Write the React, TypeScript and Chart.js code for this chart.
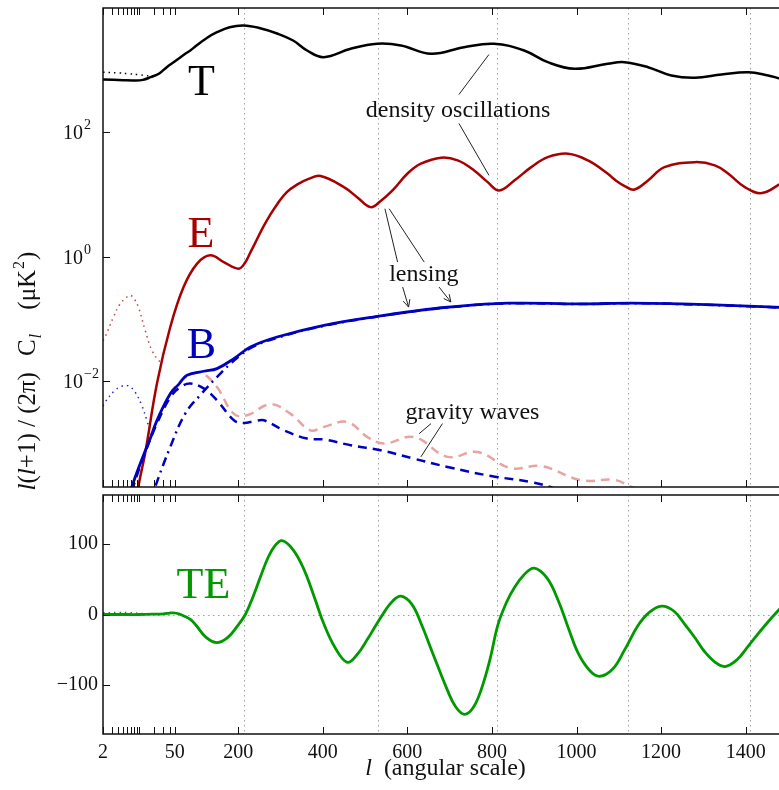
import React, { useEffect, useRef } from 'react';
import { Chart, LinearScale, registerables } from 'chart.js';

Chart.register(...registerables);

// ---------------- data (multipole l, D_l in uK^2) ----------------
const ttL = [2, 5, 8, 12, 17, 25, 35, 50, 75, 87, 100, 126, 150, 180, 213, 250, 292, 330, 363, 402, 466, 529, 585, 656, 734, 805, 876, 932, 995, 1074, 1113, 1169, 1224, 1280, 1343, 1406, 1453, 1483, 1500];
const ttV = [710, 690, 684, 700, 773, 887, 1119, 1380, 1838, 2075, 2445, 3300, 4083, 4920, 5236, 4780, 3893, 3000, 2075, 1622, 2213, 2663, 2500, 1838, 2345, 2663, 2075, 1346, 1054, 1270, 1346, 1119, 824, 757, 855, 931, 824, 729, 700];

const ttLowL = [2, 4, 6.2, 10, 13.3, 18, 22];
const ttLowV = [931, 905, 877, 845, 824, 805, 840];

const eeL = [8, 9.8, 13.3, 22.6, 41, 71, 103, 134, 166, 201, 217, 229, 241, 260, 276.5, 292, 314.5, 340, 366.6, 395, 450, 482, 513, 537, 565, 600, 632, 680, 719, 758, 790, 817, 853, 893, 932, 980, 1027, 1074, 1090, 1115, 1137, 1169, 1208, 1280, 1327, 1359, 1398, 1438, 1483, 1500];
const eeV = [5e-5, 2.0e-4, 7.0e-4, 9.3e-3, 0.0745, 0.327, 0.778, 1.057, 0.824, 0.645, 0.817, 1.18, 1.71, 3.09, 4.82, 6.97, 10.9, 14.6, 17.9, 19.9, 13.2, 9.04, 6.3, 7.9, 11.7, 21.7, 31.4, 39.3, 35.5, 24.5, 15.9, 11.7, 16.9, 27.7, 40, 45.5, 35.5, 21.7, 17.5, 13.6, 12.1, 16.9, 27.7, 33.3, 29.5, 21.7, 13.2, 10.6, 15.0, 17];

const eeLowL = [2, 2.2, 3.2, 4.2, 5.4, 6.7, 8, 9.8, 13.3, 18, 26.2, 29];
const eeLowV = [0.045, 0.0515, 0.108, 0.17, 0.213, 0.241, 0.215, 0.156, 0.066, 0.0315, 0.0204, 0.022];

const bbL = [6, 7.3, 12.7, 16.7, 22.6, 41, 60, 79, 118.5, 150, 190, 229, 292, 403, 537, 600, 695, 837, 1011, 1130, 1248, 1406, 1500];
const bbV = [1e-4, 2e-4, 6.9e-4, 1.2e-3, 2.36e-3, 6.3e-3, 9.0e-3, 0.0125, 0.0145, 0.016, 0.0232, 0.0356, 0.0515, 0.0794, 0.113, 0.130, 0.155, 0.180, 0.175, 0.181, 0.175, 0.162, 0.152];

const bbLensL = [16, 20.8, 41, 75, 110, 150, 182, 229, 292, 403, 537, 600, 695, 837, 1011, 1130, 1248, 1406, 1500];
const bbLensV = [1e-4, 2e-4, 8.8e-4, 3.03e-3, 5.96e-3, 0.0117, 0.0192, 0.034, 0.050, 0.078, 0.112, 0.129, 0.154, 0.179, 0.174, 0.180, 0.174, 0.161, 0.151];

const bbGwL = [6, 7.7, 12.7, 22.6, 41, 63, 87, 118.5, 150, 190, 213, 240, 261, 308, 363, 403, 466, 537, 616, 695, 798, 893, 947, 1000];
const bbGwV = [1e-4, 2e-4, 6.5e-4, 2.1e-3, 5.5e-3, 8.0e-3, 9.2e-3, 7.7e-3, 4.95e-3, 2.36e-3, 2.14e-3, 2.3e-3, 2.36e-3, 1.63e-3, 1.2e-3, 1.16e-3, 9.4e-4, 7.8e-4, 5.7e-4, 4.2e-4, 3.0e-4, 2.4e-4, 1.9e-4, 1.3e-4];

const eeGwL = [6, 7.7, 12.7, 22.6, 41, 63, 90, 105, 118.5, 150, 190, 221, 276, 324, 371, 403, 458, 506, 545, 616, 695, 766, 845, 916, 1011, 1090, 1130, 1200];
const eeGwV = [1e-4, 2e-4, 7e-4, 2.3e-3, 6.3e-3, 0.0100, 0.0130, 0.0140, 0.0133, 8.1e-3, 3.0e-3, 2.84e-3, 4.27e-3, 3.0e-3, 1.63e-3, 1.85e-3, 2.22e-3, 1.27e-3, 1.0e-3, 1.27e-3, 6.1e-4, 7.3e-4, 4.0e-4, 4.35e-4, 2.57e-4, 2.6e-4, 2.0e-4, 1.3e-4];

const bbLowL = [2, 2.2, 3.44, 4.6, 5.8, 7, 8.5, 11.4, 14.3, 17.5];
const bbLowV = [4.0e-3, 4.65e-3, 7.2e-3, 8.3e-3, 8.6e-3, 8.0e-3, 6.7e-3, 4.1e-3, 2.36e-3, 1.35e-3];

const teL = [2, 5, 10, 20, 30, 40, 47, 60, 75, 87, 100, 125, 150, 175, 198, 217, 235, 253, 270, 286, 304, 330, 355, 380, 403, 430, 458, 480, 506, 525, 545, 565, 585, 610, 632, 660, 695, 715, 735, 755, 774, 795, 814, 835, 853, 875, 900, 930, 956, 980, 1003, 1030, 1054, 1085, 1114, 1145, 1172, 1201, 1230, 1256, 1280, 1303, 1328, 1351, 1380, 1406, 1445, 1483, 1500];
const teV = [0, 0, 0, 0.5, 1, 2, 2.4, 1, -3, -7, -15, -33, -40, -33, -16.6, 0, 25, 54, 80, 97, 105, 92, 65, 25, -14, -48, -68, -58, -35, -16, 3, 19, 26, 15, -12, -55, -108, -132, -142, -133, -108, -65, -15, 18, 38, 56, 66, 52, 21, -18, -54, -79, -88, -78, -50, -16, 3, 12, 5, -14, -33, -53, -68, -74, -64, -45, -16, 9.5, 19];

const teLowL = [2, 4, 6, 8, 10, 14];
const teLowV = [2.5, 3, 3, 2.5, 2, 1];

// ---------------- ticks / guides ----------------
const peakLines = [215, 530, 812, 1122, 1411];
const xMajorTicks = [200, 400, 600, 800, 1000, 1200, 1400];
const xMinorTicks = [2, 3, 4, 5, 6, 7, 8, 9, 10, 20, 30, 40, 50];
const xTickLabels = [2, 50, 200, 400, 600, 800, 1000, 1200, 1400];
const topYExponents = [2, 0, -2];
const teTicks = [100, 0, -100];

// ---------------- hybrid log/linear l axis ----------------
const L_MIN = 2;
const L_BREAK = 50;
const LOG_SPAN = 169.5;

function toU(v: number) {
  return v < L_BREAK
    ? (LOG_SPAN * Math.log(v / L_MIN)) / Math.log(L_BREAK / L_MIN)
    : LOG_SPAN + (v - L_BREAK);
}
function fromU(u: number) {
  return u < LOG_SPAN ? L_MIN * Math.pow(L_BREAK / L_MIN, u / LOG_SPAN) : L_BREAK + (u - LOG_SPAN);
}

class HybridScale extends LinearScale {
  static id = 'hybrid';
  static defaults = LinearScale.defaults;
  getPixelForValue(value: any) {
    if (value === null || value === undefined || !isFinite(value)) return NaN;
    const u0 = toU(this.min);
    const u1 = toU(this.max);
    return this.getPixelForDecimal((toU(value) - u0) / (u1 - u0));
  }
  getValueForPixel(pixel: number) {
    const u0 = toU(this.min);
    const u1 = toU(this.max);
    return fromU(u0 + this.getDecimalForPixel(pixel) * (u1 - u0));
  }
}
Chart.register(HybridScale as any);

// ---------------- styles ----------------
const SERIF = "'Liberation Serif', 'DejaVu Serif', serif";
const E_COLOR = '#a80000';
const B_COLOR = '#0000c0';
const GW_E_COLOR = '#e9a3a3';
const TE_COLOR = '#009a00';

function fnt(size: number, italic = false) {
  return (italic ? 'italic ' : '') + size + 'px ' + SERIF;
}

function pts(ls: number[], vs: number[]) {
  return ls.map((l, i) => ({ x: l, y: vs[i] }));
}

function lineDs(data: any[], color: string, width: number, dash: number[] = []) {
  return {
    data,
    borderColor: color,
    borderWidth: width,
    borderDash: dash,
    pointRadius: 0,
    fill: false,
    tension: 0.4,
    capBezierPoints: false,
    borderCapStyle: 'butt',
    borderJoinStyle: 'round',
  };
}

const topNotes = [
  { text: 'T', l: 113, v: 393, color: '#000', size: 44 },
  { text: 'E', l: 112, v: 1.42, color: E_COLOR, size: 44 },
  { text: 'B', l: 113, v: 0.0234, color: B_COLOR, size: 44 },
  { text: 'density oscillations', l: 720, v: 174, color: '#111', size: 24 },
  { text: 'lensing', l: 639, v: 0.404, color: '#111', size: 24 },
  { text: 'gravity waves', l: 754, v: 2.52e-3, color: '#111', size: 24 },
];
const topPointers = [
  { from: [722, 407], to: [793, 1791], arrow: false },
  { from: [722, 139.5], to: [793, 20.4], arrow: false },
  { from: [547, 5.94], to: [577, 0.824], arrow: false },
  { from: [557, 5.94], to: [640, 0.824], arrow: false },
  { from: [589, 0.327], to: [603, 0.156], arrow: true },
  { from: [675, 0.327], to: [703, 0.188], arrow: true },
  { from: [656, 2.09e-3], to: [628, 1.44e-3], arrow: false },
  { from: [683, 2.09e-3], to: [632, 6.1e-4], arrow: false },
];
const bottomNotes = [{ text: 'TE', l: 118, v: 24, color: TE_COLOR, size: 44 }];

// ---------------- drawing helpers ----------------
function drawGrid(chart: any, withZero: boolean) {
  const { ctx, chartArea: a, scales } = chart;
  ctx.save();
  ctx.strokeStyle = '#a0a0a0';
  ctx.lineWidth = 1;
  ctx.setLineDash([1.5, 3.5]);
  ctx.beginPath();
  for (const l of peakLines) {
    const x = Math.round(scales.x.getPixelForValue(l)) + 0.5;
    ctx.moveTo(x, a.top);
    ctx.lineTo(x, a.bottom);
  }
  if (withZero) {
    const y = Math.round(scales.y.getPixelForValue(0)) + 0.5;
    ctx.moveTo(a.left, y);
    ctx.lineTo(a.right, y);
  }
  ctx.stroke();
  ctx.restore();
}

function drawFrame(chart: any, yTicks: number[]) {
  const { ctx, chartArea: a, scales } = chart;
  ctx.save();
  ctx.setLineDash([]);
  ctx.strokeStyle = '#111';
  ctx.lineWidth = 1.5;
  ctx.strokeRect(a.left, a.top, a.right - a.left, a.bottom - a.top);
  ctx.lineWidth = 1;
  ctx.beginPath();
  const TL = 7;
  for (const l of [...xMinorTicks, ...xMajorTicks]) {
    const x = Math.round(scales.x.getPixelForValue(l)) + 0.5;
    ctx.moveTo(x, a.top);
    ctx.lineTo(x, a.top + TL);
    ctx.moveTo(x, a.bottom);
    ctx.lineTo(x, a.bottom - TL);
  }
  for (const v of yTicks) {
    const y = Math.round(scales.y.getPixelForValue(v)) + 0.5;
    ctx.moveTo(a.left, y);
    ctx.lineTo(a.left + TL, y);
  }
  ctx.stroke();
  ctx.restore();
}

function drawNotes(chart: any, notes: any[], pointers: any[]) {
  const { ctx, scales } = chart;
  const px = (l: number) => scales.x.getPixelForValue(l);
  const py = (v: number) => scales.y.getPixelForValue(v);
  ctx.save();
  ctx.setLineDash([]);
  ctx.strokeStyle = '#222';
  ctx.lineWidth = 1;
  for (const p of pointers) {
    const x1 = px(p.from[0]);
    const y1 = py(p.from[1]);
    const x2 = px(p.to[0]);
    const y2 = py(p.to[1]);
    ctx.beginPath();
    ctx.moveTo(x1, y1);
    ctx.lineTo(x2, y2);
    if (p.arrow) {
      const ang = Math.atan2(y2 - y1, x2 - x1);
      const h = 8;
      for (const s of [-1, 1]) {
        ctx.moveTo(x2, y2);
        ctx.lineTo(x2 - h * Math.cos(ang + s * 0.45), y2 - h * Math.sin(ang + s * 0.45));
      }
    }
    ctx.stroke();
  }
  ctx.textAlign = 'center';
  ctx.textBaseline = 'alphabetic';
  for (const n of notes) {
    ctx.font = fnt(n.size);
    ctx.fillStyle = n.color;
    ctx.fillText(n.text, px(n.l), py(n.v));
  }
  ctx.restore();
}

const topPlugin = {
  id: 'topPanel',
  beforeDatasetsDraw(chart: any) {
    drawGrid(chart, false);
  },
  afterDatasetsDraw(chart: any) {
    const { ctx, chartArea: a, scales } = chart;
    drawFrame(chart, topYExponents.map((e) => Math.pow(10, e)));
    ctx.save();
    ctx.fillStyle = '#111';
    ctx.textAlign = 'left';
    ctx.textBaseline = 'alphabetic';
    for (const e of topYExponents) {
      const y = scales.y.getPixelForValue(Math.pow(10, e));
      ctx.font = fnt(20);
      ctx.fillText('10', a.left - 40, y + 7);
      const w = ctx.measureText('10').width;
      ctx.font = fnt(14);
      ctx.fillText(e < 0 ? '\u2212' + -e : String(e), a.left - 40 + w + 1, y - 3);
    }
    ctx.restore();
    drawNotes(chart, topNotes, topPointers);
  },
};

const bottomPlugin = {
  id: 'bottomPanel',
  beforeDatasetsDraw(chart: any) {
    drawGrid(chart, true);
  },
  afterDatasetsDraw(chart: any) {
    const { ctx, chartArea: a, scales } = chart;
    drawFrame(chart, teTicks);
    ctx.save();
    ctx.fillStyle = '#111';
    ctx.font = fnt(20);
    ctx.textAlign = 'right';
    ctx.textBaseline = 'middle';
    for (const v of teTicks) {
      ctx.fillText(v < 0 ? '\u2212' + -v : String(v), a.left - 5, scales.y.getPixelForValue(v));
    }
    ctx.textAlign = 'center';
    ctx.textBaseline = 'alphabetic';
    for (const l of xTickLabels) {
      ctx.fillText(String(l), scales.x.getPixelForValue(l), a.bottom + 24);
    }
    const t1 = 'l';
    const t2 = '  (angular scale)';
    ctx.font = fnt(24, true);
    const w1 = ctx.measureText(t1).width;
    ctx.font = fnt(24);
    const w2 = ctx.measureText(t2).width;
    const cx = (a.left + a.right) / 2;
    const x0 = cx - (w1 + w2) / 2;
    ctx.textAlign = 'left';
    ctx.font = fnt(24, true);
    ctx.fillText(t1, x0, a.bottom + 41);
    ctx.font = fnt(24);
    ctx.fillText(t2, x0 + w1, a.bottom + 41);

    const parts = [
      { t: 'l', size: 25, it: true, dy: 0, gap: 0 },
      { t: '(', size: 25, it: false, dy: 0, gap: 0 },
      { t: 'l', size: 25, it: true, dy: 0, gap: 0 },
      { t: '+1) / (2\u03c0)', size: 25, it: false, dy: 0, gap: 0 },
      { t: 'C', size: 25, it: false, dy: 0, gap: 16 },
      { t: 'l', size: 17, it: true, dy: 6, gap: 1 },
      { t: '(\u03bcK', size: 25, it: false, dy: 0, gap: 24 },
      { t: '2', size: 16, it: false, dy: -11, gap: 1 },
      { t: ')', size: 25, it: false, dy: 0, gap: 1 },
    ];
    let total = 0;
    const widths: number[] = [];
    for (const p of parts) {
      ctx.font = fnt(p.size, p.it);
      const w = ctx.measureText(p.t).width;
      widths.push(w);
      total += p.gap + w;
    }
    const centerY = (8 + a.bottom) / 2;
    ctx.translate(35, centerY + total / 2);
    ctx.rotate(-Math.PI / 2);
    let cur = 0;
    parts.forEach((p, i) => {
      cur += p.gap;
      ctx.font = fnt(p.size, p.it);
      ctx.fillText(p.t, cur, p.dy);
      cur += widths[i];
    });
    ctx.restore();
    drawNotes(chart, bottomNotes, []);
  },
};

const commonOpts = (padTop: number, padBottom: number) => ({
  animation: false,
  responsive: false,
  events: [],
  layout: { padding: { left: 103, right: 12, top: padTop, bottom: padBottom } },
  plugins: { legend: { display: false }, tooltip: { enabled: false } },
  elements: { point: { radius: 0 } },
});

export default function App() {
  const topRef = useRef<HTMLCanvasElement>(null);
  const botRef = useRef<HTMLCanvasElement>(null);

  useEffect(() => {
    const c1 = new Chart(topRef.current as HTMLCanvasElement, {
      type: 'line',
      data: {
        datasets: [
          lineDs(pts(bbL, bbV), B_COLOR, 2.8),
          lineDs(pts(bbLensL, bbLensV), B_COLOR, 2.5, [9, 5, 2, 5]),
          lineDs(pts(bbGwL, bbGwV), B_COLOR, 2.5, [9, 6]),
          lineDs(pts(eeL, eeV), E_COLOR, 2.5),
          lineDs(pts(eeGwL, eeGwV), GW_E_COLOR, 2.5, [9, 6]),
          lineDs(pts(eeLowL, eeLowV), '#c04848', 1.5, [1.5, 4]),
          lineDs(pts(bbLowL, bbLowV), '#2a2ad0', 1.5, [1.5, 4]),
          lineDs(pts(ttL, ttV), '#000', 2.5),
          lineDs(pts(ttLowL, ttLowV), '#000', 1.5, [1.5, 4]),
        ] as any,
      },
      options: {
        ...commonOpts(8, 8),
        scales: {
          x: { type: 'hybrid', min: 2, max: 1500, display: false, bounds: 'data' },
          y: { type: 'logarithmic', min: 2e-4, max: 1e4, display: false },
        },
      } as any,
      plugins: [topPlugin],
    });

    const c2 = new Chart(botRef.current as HTMLCanvasElement, {
      type: 'line',
      data: {
        datasets: [
          lineDs(pts(teL, teV), TE_COLOR, 2.8),
          lineDs(pts(teLowL, teLowV), TE_COLOR, 1.2, [1.5, 4]),
        ] as any,
      },
      options: {
        ...commonOpts(495, 56),
        scales: {
          x: { type: 'hybrid', min: 2, max: 1500, display: false, bounds: 'data' },
          y: { type: 'linear', min: -170, max: 170, display: false },
        },
      } as any,
      plugins: [bottomPlugin],
    });

    return () => {
      c1.destroy();
      c2.destroy();
    };
  }, []);

  return (
    <div
      style={{
        position: 'fixed',
        left: 0,
        top: 0,
        width: 779,
        height: 790,
        overflow: 'hidden',
        background: '#fff',
      }}
    >
      <canvas ref={topRef} width={800} height={495} style={{ position: 'absolute', left: 0, top: 0 }} />
      <canvas ref={botRef} width={800} height={790} style={{ position: 'absolute', left: 0, top: 0 }} />
    </div>
  );
}
